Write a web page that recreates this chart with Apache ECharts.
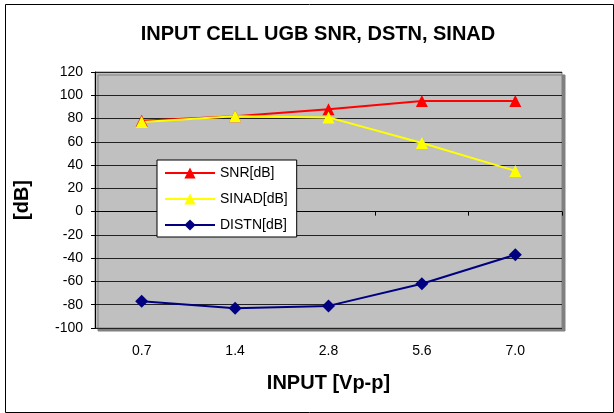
<!DOCTYPE html>
<html><head><meta charset="utf-8">
<script src="https://cdn.jsdelivr.net/npm/echarts@6/dist/echarts.min.js"></script>
<style>html,body{margin:0;padding:0;background:#fff}#c{width:614px;height:413px}</style>
</head><body><div id="c"></div>
<script>
const categories = ['0.7', '1.4', '2.8', '5.6', '7.0'];
const snr = [78, 82, 88, 95, 95];
const sinad = [77, 82, 81, 59, 35];
const distn = [-77, -83, -81, -62, -37];
const yTicks = {min: -100, max: 120, interval: 20};

const chart = echarts.init(document.getElementById('c'), null, {renderer: 'canvas'});
const font = 'Liberation Sans, Arial, sans-serif';
chart.setOption({
  animation: false,
  backgroundColor: '#fff',
  title: {
    text: 'INPUT CELL UGB SNR, DSTN, SINAD',
    left: 313, textAlign: 'center', top: 19,
    textStyle: {fontFamily: font, fontWeight: 'bold', fontSize: 20, color: '#000'}
  },
  graphic: [{
    type: 'rect', left: 3, top: 2, shape: {width: 608, height: 408},
    style: {fill: 'none', stroke: '#000', lineWidth: 1}, silent: true, z: 100
  }],
  grid: {
    left: 95, right: 52, top: 72, bottom: 85,
    show: true, backgroundColor: '#c0c0c0', borderColor: '#808080', borderWidth: 1,
    shadowColor: '#808080', shadowOffsetX: 3, shadowOffsetY: 3, shadowBlur: 0
  },
  legend: {
    orient: 'vertical', left: 157, top: 160,
    backgroundColor: '#fff', borderColor: '#000', borderWidth: 1,
    padding: [6, 9, 5, 7], itemGap: 12, itemWidth: 50, itemHeight: 14,
    borderRadius: 0,
    textStyle: {fontFamily: font, fontSize: 14, color: '#000'},
    data: ['SNR[dB]', 'SINAD[dB]', 'DISTN[dB]']
  },
  xAxis: [{
    type: 'category', data: categories, position: 'bottom',
    axisLine: {show: false, onZero: false}, axisTick: {show: false},
    axisLabel: {fontFamily: font, fontSize: 14, color: '#000', margin: 16},
    name: 'INPUT [Vp-p]', nameLocation: 'middle', nameGap: 45,
    nameTextStyle: {fontFamily: font, fontWeight: 'bold', fontSize: 20, color: '#000'}
  }, {
    type: 'category', data: categories, position: 'top',
    axisLine: {show: true, onZero: true, onZeroAxisIndex: 0, lineStyle: {color: '#000', width: 1}},
    axisTick: {show: true, inside: true, length: 4, lineStyle: {color: '#000'}},
    axisLabel: {show: false}
  }],
  yAxis: {
    type: 'value', min: yTicks.min, max: yTicks.max, interval: yTicks.interval,
    axisLine: {show: true, lineStyle: {color: '#000', width: 1}},
    axisTick: {show: true, length: 4, lineStyle: {color: '#000'}},
    axisLabel: {fontFamily: font, fontSize: 14, color: '#000', margin: 12},
    splitLine: {show: true, lineStyle: {color: '#222', width: 1}},
    name: '[dB]', nameLocation: 'middle', nameGap: 63,
    nameTextStyle: {fontFamily: font, fontWeight: 'bold', fontSize: 20, color: '#000'}
  },
  series: [{
    name: 'SNR[dB]', type: 'line', data: snr, xAxisIndex: 0,
    symbol: 'triangle', symbolSize: 12,
    lineStyle: {color: '#ff0000', width: 2}, itemStyle: {color: '#ff0000'}
  }, {
    name: 'SINAD[dB]', type: 'line', data: sinad, xAxisIndex: 0,
    symbol: 'triangle', symbolSize: 12,
    lineStyle: {color: '#ffff00', width: 2}, itemStyle: {color: '#ffff00'}
  }, {
    name: 'DISTN[dB]', type: 'line', data: distn, xAxisIndex: 0,
    symbol: 'diamond', symbolSize: 13,
    lineStyle: {color: '#000080', width: 2}, itemStyle: {color: '#000080'}
  }]
});
</script></body></html>
